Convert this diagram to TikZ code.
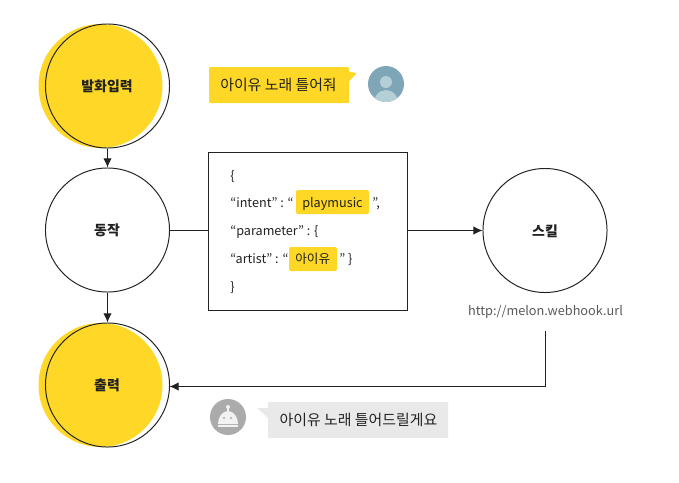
\documentclass[tikz,border=0pt]{standalone}
\usepackage{fontspec}
\setmainfont{Noto Sans CJK KR}
\usetikzlibrary{arrows.meta}
\definecolor{kakao}{HTML}{FFD827}
\definecolor{ink}{HTML}{222222}
\definecolor{userblue}{HTML}{7FA6B6}
\definecolor{userpale}{HTML}{B4D0D6}
\definecolor{bubblegray}{HTML}{E9E9E9}
\definecolor{botgray}{HTML}{ABABAB}
\definecolor{botpale}{HTML}{F2F2F2}
\begin{document}
\begin{tikzpicture}[x=0.025cm, y=-0.025cm, every node/.style={font=\fontsize{10pt}{12pt}\selectfont, text=ink, inner sep=0pt}, >={Latex[length=6.5pt, width=6pt]},
	flow/.style={circle, draw=ink, line width=0.7pt, minimum size=3.1cm},
	lab/.style={font=\fontsize{9.9pt}{12pt}\selectfont\bfseries},
	code/.style={anchor=base west, font=\fontsize{9pt}{12pt}\selectfont},
	wire/.style={draw=ink, line width=0.7pt}]
	\useasboundingbox (0,0) rectangle (679,482);
	\foreach \y in {86,385} {\fill[kakao] (100.5,\y) circle (62*0.025cm);}
	\node[flow] (input) at (107.5,86) {};
	\node[flow] (action) at (107.5,230) {};
	\node[flow] (output) at (107.5,385) {};
	\node[flow] (skill) at (545,230.5) {};
	\node[lab] (inputlab) at (107,86) {발화입력};
	\node[lab] (actionlab) at (107,230) {동작};
	\node[lab] (outputlab) at (107,385) {출력};
	\node[lab] (skilllab) at (545,231) {스킬};
	\node[text=ink!75, font=\fontsize{9.05pt}{12pt}\selectfont] (url) at (545.5,312) {http://melon.webhook.url};
	\node[draw=ink, line width=0.7pt, minimum width=199*0.025cm, minimum height=158*0.025cm] (codebox) at (308,231.5) {};
	\fill[kakao, rounded corners=1pt] (296,190) rectangle (369,214);
	\fill[kakao, rounded corners=1pt] (289,247) rectangle (337,271);
	\node[code] (l1) at (230,180) {\{};
	\node[code] (l2a) at (230,207) {“intent” : “};
	\node[code] (l2b) at (302,207) {playmusic};
	\node[code] (l2c) at (372,207) {”,};
	\node[code] (l3) at (230,235) {“parameter” : \{};
	\node[code] (l4a) at (230,263) {“artist” : “};
	\node[code] (l4b) at (295,263) {아이유};
	\node[code] (l4c) at (339,263) {” \}};
	\node[code] (l5) at (230,291) {\}};
	\coordinate (actionout) at (169,230.5);
	\coordinate (skillout) at (545.5,331);
	\coordinate (outputin) at (169.5,386.5);
	\draw[wire, ->] (input) -- (action);
	\draw[wire, ->] (action) -- (output);
	\draw[wire] (actionout) -- (actionout -| codebox.west);
	\draw[wire, ->] (codebox.east |- skill.west) -- (skill.west);
	\draw[wire, ->] (skillout) |- (outputin);
	\fill[kakao, rounded corners=0.8pt] (209,67) -- (349,67) -- (349,72) -- (357,73) -- (349,81) -- (349,103) -- (209,103) -- cycle;
	\node[font=\fontsize{10.6pt}{12pt}\selectfont] (userbubble) at (278.5,85) {아이유 노래 틀어줘};
	\begin{scope}
		\clip (386,84) circle (18*0.025cm);
		\fill[userblue] (368,66) rectangle (404,102);
		\fill[userpale] (386,106) ellipse (13*0.025cm and 16*0.025cm);
		\fill[userpale] (386,82) circle (6*0.025cm);
	\end{scope}
	\fill[bubblegray] (257,408) -- (268,408) -- (268,402) -- (448,402) -- (448,438) -- (268,438) -- (268,418) -- cycle;
	\node[font=\fontsize{10.6pt}{12pt}\selectfont] (botbubble) at (358.5,420) {아이유 노래 틀어드릴게요};
	\fill[botgray] (228,417) circle (18*0.025cm);
	\fill[botpale] (228,407) circle (2*0.025cm);
	\fill[botpale] (227.3,407) rectangle (228.7,412);
	\fill[botpale] (218,424) arc (180:0:10*0.025cm and 13*0.025cm) -- cycle;
	\fill[botpale] (218,425) rectangle (238,427);
	\foreach \x in {224,231} {\fill[botgray] (\x,418) circle (1.2*0.025cm);}
\end{tikzpicture}
\end{document}
